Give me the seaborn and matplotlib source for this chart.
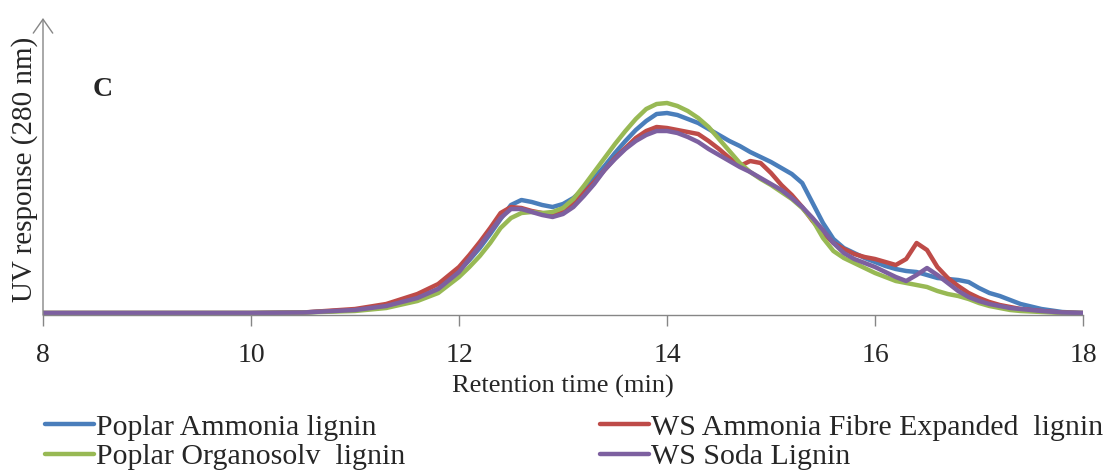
import pandas as pd
import seaborn as sns
import matplotlib.pyplot as plt

# retention time grid (min)
tiempo = [8, 9, 10, 10.5, 11, 11.3, 11.6, 11.8,
          12.0, 12.1, 12.2, 12.3, 12.4, 12.5, 12.6, 12.7, 12.8, 12.9,
          13.0, 13.1, 13.2, 13.3, 13.4, 13.5, 13.6, 13.7, 13.8, 13.9,
          14.0, 14.1, 14.2, 14.3, 14.4, 14.5, 14.6, 14.7, 14.8, 14.9,
          15.0, 15.1, 15.2, 15.3, 15.4, 15.5, 15.6, 15.7, 15.8, 15.9,
          16.0, 16.1, 16.2, 16.3, 16.4, 16.5, 16.6, 16.7, 16.8, 16.9,
          17.0, 17.1, 17.2, 17.3, 17.4, 17.6, 17.8, 18.0]

poplar_ammonia = [2, 2, 2, 2.5, 5, 9, 17, 26,
                  44, 55, 67, 81, 96, 110, 115, 113, 110, 108,
                  111, 117, 126, 137, 149, 162, 174, 185, 194, 201,
                  202, 200, 196, 192, 186, 180, 174, 169, 163, 158,
                  153, 147, 141, 132, 112, 92, 76, 67, 62, 57,
                  53, 49, 46, 44, 43, 40, 37, 36, 35, 33,
                  27, 22, 19, 15, 11, 6, 3, 2]

ws_afex = [2, 2, 2, 2.5, 6, 11, 21, 31,
           48, 60, 73, 87, 102, 108, 107, 104, 102, 100,
           105, 112, 122, 133, 145, 157, 167, 177, 184, 188,
           187, 185, 183, 181, 174, 166, 157, 149, 154, 152,
           142, 130, 120, 108, 94, 82, 72, 66, 61, 58,
           56, 53, 50, 56, 72, 65, 48, 37, 29, 22,
           17, 13, 10, 8, 6, 4, 2.5, 2]

poplar_organosolv = [2, 2, 2, 2.5, 4, 7, 14, 22,
                     38, 48, 59, 72, 87, 97, 102, 103, 102, 103,
                     107, 116, 129, 143, 157, 171, 184, 196, 206, 211,
                     212, 209, 204, 197, 188, 176, 164, 152, 143, 136,
                     130, 123, 116, 107, 95, 77, 64, 57, 52, 47,
                     42, 38, 34, 32, 30, 28, 24, 21, 19, 16,
                     12, 9, 7, 5, 4, 3, 2, 2]

ws_soda = [2, 2, 2, 2.5, 5, 9, 17, 26,
           43, 56, 69, 83, 97, 106, 106, 103, 100, 98,
           101, 108, 119, 131, 145, 156, 166, 174, 180, 184,
           184, 182, 178, 173, 166, 160, 154, 148, 143, 137,
           131, 125, 117, 108, 97, 85, 72, 62, 56, 52,
           48, 43, 38, 34, 40, 47, 40, 32, 24, 18,
           14, 11, 9, 7, 6, 4, 2.5, 2]

nombres = ["Poplar Ammonia lignin", "WS Ammonia Fibre Expanded  lignin",
           "Poplar Organosolv  lignin", "WS Soda Lignin"]
colores = ["#4a7ebb", "#be4b48", "#98b954", "#7d60a0"]
series = [poplar_ammonia, ws_afex, poplar_organosolv, ws_soda]

tabela = pd.concat([pd.DataFrame({"t": tiempo, "uv": s, "lignin": n})
                    for s, n in zip(series, nombres)], ignore_index=True)

sns.set_style("white")
plt.rcParams["font.family"] = ["Liberation Serif", "DejaVu Serif"]

fig = plt.figure(figsize=(11.08, 4.75), dpi=100)
ax = fig.add_axes([43 / 1108, 160 / 475, 1040 / 1108, 297 / 475])

sns.lineplot(data=tabela, x="t", y="uv", hue="lignin", hue_order=nombres,
             palette=dict(zip(nombres, colores)), linewidth=3.2,
             errorbar=None, ax=ax)

ax.set_xlim(8, 18)
ax.set_ylim(0, 297)
ax.set_xticks([8, 10, 12, 14, 16, 18])
ax.set_yticks([])
ax.tick_params(axis="x", direction="out", length=8, width=1, color="#868686",
               pad=12, labelsize=20, bottom=True)

for lado in ["top", "right", "left"]:
    ax.spines[lado].set_visible(False)
ax.spines["bottom"].set_color("#868686")
ax.spines["bottom"].set_linewidth(1)

# y axis drawn as an arrow
ax.annotate("", xy=(0, 1), xycoords="axes fraction", xytext=(0, 0),
            arrowprops=dict(arrowstyle="->,head_length=1.0,head_width=0.7",
                            color="#868686", lw=1, shrinkA=0, shrinkB=0))

ax.set_xlabel("Retention time (min)", fontsize=19)
ax.xaxis.set_label_coords(0.5, -0.202)
ax.set_ylabel("UV response (280 nm)", fontsize=21)
ax.yaxis.set_label_coords(-0.005, 0.49)

fig.text(103 / 1108, 1 - 90 / 475, "C", fontsize=20, fontweight="bold",
         ha="center", va="center")

handles, labels = ax.get_legend_handles_labels()
ax.get_legend().remove()
orden = [0, 2, 1, 3]
fig.legend([handles[i] for i in orden], [labels[i] for i in orden],
           loc="upper left", bbox_to_anchor=(45 / 1108, 0, 1058 / 1108, 61 / 475),
           mode="expand", ncol=2, frameon=False, fontsize=21.5,
           handlelength=1.65, handletextpad=0.05, labelspacing=0.08,
           borderaxespad=0, borderpad=0)

fig.savefig("out.png", dpi=100)
plt.close()
